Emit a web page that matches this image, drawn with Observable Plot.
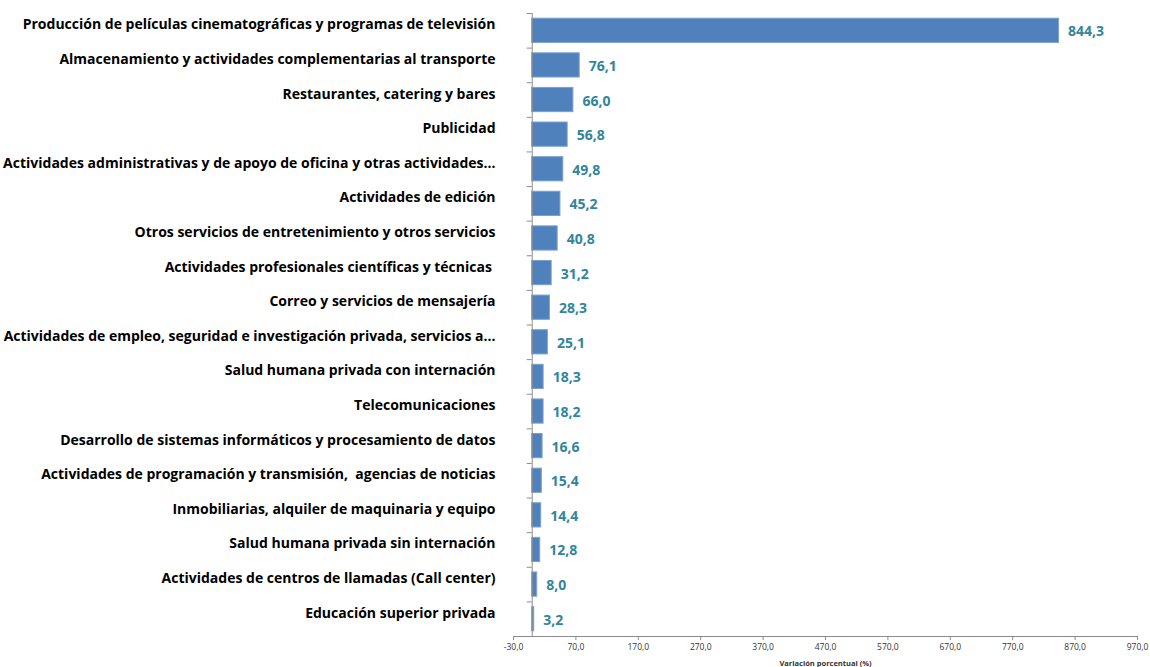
<!DOCTYPE html>
<html><head><meta charset="utf-8">
<script src="https://cdn.jsdelivr.net/npm/d3@7"></script>
<script src="https://cdn.jsdelivr.net/npm/@observablehq/plot@0.6"></script>
<style>body{margin:0;background:#fff;} svg{display:block;}</style>
</head><body><div id="chart"></div>
<script>
const categories = [
  "Producción de películas cinematográficas y programas de televisión",
  "Almacenamiento y actividades complementarias al transporte",
  "Restaurantes, catering y bares",
  "Publicidad",
  "Actividades administrativas y de apoyo de oficina y otras actividades…",
  "Actividades de edición",
  "Otros servicios de entretenimiento y otros servicios",
  "Actividades profesionales científicas y técnicas ",
  "Correo y servicios de mensajería",
  "Actividades de empleo, seguridad e investigación privada, servicios a…",
  "Salud humana privada con internación",
  "Telecomunicaciones",
  "Desarrollo de sistemas informáticos y procesamiento de datos",
  "Actividades de programación y transmisión,  agencias de noticias",
  "Inmobiliarias, alquiler de maquinaria y equipo",
  "Salud humana privada sin internación",
  "Actividades de centros de llamadas (Call center)",
  "Educación superior privada"
];
const values = [844.3, 76.1, 66.0, 56.8, 49.8, 45.2, 40.8, 31.2, 28.3, 25.1, 18.3, 18.2, 16.6, 15.4, 14.4, 12.8, 8.0, 3.2];
const xTicks = [-30, 70, 170, 270, 370, 470, 570, 670, 770, 870, 970];
const xLabel = "Variación porcentual (%)";

const data = categories.map((c, i) => ({cat: c, v: values[i]}));
const fmt = v => v.toFixed(1).replace(".", ",");

const W = 1150, H = 667, mt = 13, mb = 31, ml = 513, mr = 13;
const step = (H - mt - mb) / categories.length;
const inset = step * 0.15;
const font = "'Open Sans', sans-serif";

const chart = Plot.plot({
  width: W, height: H,
  marginTop: mt, marginBottom: mb, marginLeft: ml, marginRight: mr,
  style: {fontFamily: font, background: "#fff"},
  x: {domain: [-30, 970], ticks: xTicks, tickFormat: fmt, label: null},
  y: {domain: categories, padding: 0, round: false, label: null},
  marks: [
    Plot.barX(data, {x: "v", y: "cat", fill: "#4f81bd", stroke: "#7da1cf", strokeWidth: 1,
      insetTop: inset, insetBottom: inset}),
    Plot.ruleX([0], {stroke: "#8c8c8c", strokeWidth: 1}),
    Plot.ruleY(categories, {y: d => d, x1: -8, x2: 0, dy: -step / 2, stroke: "#8c8c8c"}),
    Plot.ruleY([categories[categories.length - 1]], {y: d => d, x1: -30, x2: 970, dy: step / 2, stroke: "#8c8c8c"}),
    Plot.axisX({ticks: xTicks, tickFormat: fmt, tickSize: 4, tickPadding: 3, stroke: "#8c8c8c",
      fill: "#333", fontSize: 8.5, label: null}),
    Plot.axisY({tickSize: 0, tickPadding: 18, fontSize: 14, fontWeight: "bold", fill: "#000", dy: -6, label: null}),
    Plot.text(data, {x: "v", y: "cat", text: d => fmt(d.v), dx: 9, dy: 1, textAnchor: "start",
      fill: "#31859c", fontSize: 14, fontWeight: "bold"}),
    Plot.text([xLabel], {x: 470, frameAnchor: "bottom", dy: 29, text: d => d, fontSize: 7.5, fontWeight: "bold", fill: "#333"})
  ]
});
document.getElementById("chart").appendChild(chart);
</script>
</body></html>
